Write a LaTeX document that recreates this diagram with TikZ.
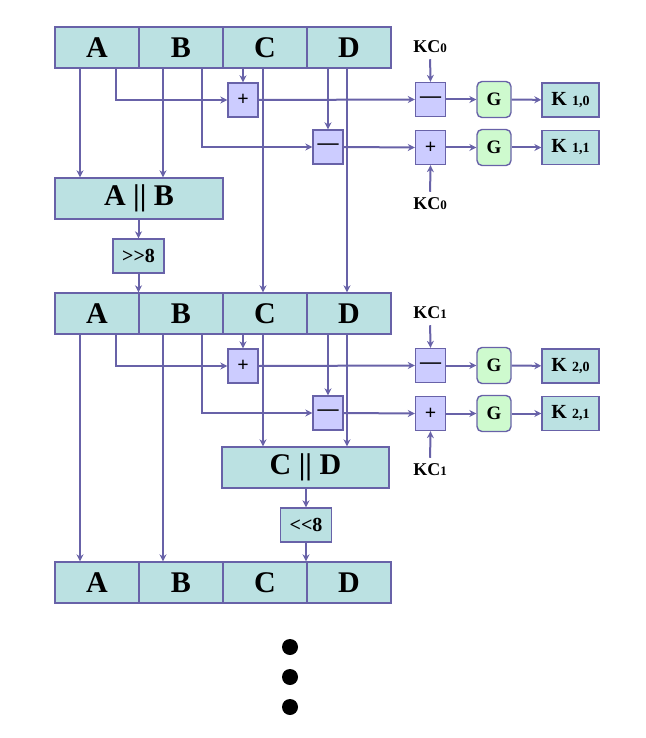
\documentclass[tikz,border=0pt]{standalone}
\usepackage{fontspec}
\setmainfont{Liberation Serif}
\usetikzlibrary{calc,arrows.meta}
\definecolor{regfill}{RGB}{187,225,226}
\definecolor{opfill}{RGB}{204,204,255}
\definecolor{gfill}{RGB}{206,250,206}
\definecolor{linec}{RGB}{104,98,168}
\newcommand{\fs}[1]{\fontsize{#1}{#1}\selectfont}
\begin{document}
\begin{tikzpicture}[x=1pt,y=-1pt,>={Stealth[length=7pt,width=7pt]},
	reg/.style={draw=linec,fill=regfill,line width=1.4pt,minimum width=84pt,minimum height=41pt,inner sep=0pt,font=\bfseries\fs{30}},
	op/.style={draw=linec,fill=opfill,line width=1.4pt,minimum width=30pt,minimum height=34pt,inner sep=0pt,font=\bfseries\fs{20}},
	gbox/.style={draw=linec,fill=gfill,line width=1.4pt,rounded corners=5pt,minimum width=34pt,minimum height=36pt,inner sep=0pt,font=\bfseries\fs{19}},
	kbox/.style={reg,minimum width=57pt,minimum height=34pt,font=\bfseries\fs{20}},
	shbox/.style={reg,minimum width=51pt,minimum height=34pt,font=\bfseries\fs{20}},
	lbl/.style={font=\bfseries\fs{18},inner sep=1pt},
	link/.style={draw=linec,line width=2pt,->}]
	\useasboundingbox (0,0) rectangle (645,738);
	% registers
	\foreach \r/\y in {1/47.5,2/313.5,3/582.5}
	\foreach \n [count=\c from 0] in {A,B,C,D}
	\node[reg] (r\r\n) at ({97+84*\c},\y) {\n};
	\node[reg,minimum width=168pt] (ab) at (139,198.5) {A || B};
	\node[shbox] (sh1) at (138.5,256) {{>}{>}8};
	\node[reg,minimum width=167pt] (cd) at (305.5,467.5) {C || D};
	\node[shbox] (sh2) at (306,525) {{<}{<}8};
	% round function
	\foreach \b/\t/\dy in {1/0/0,2/1/266}{
		\node[op] (p\b) at (243,100+\dy) {+};
		\node[op,font=\bfseries\fs{21}] (m\b) at (328,147+\dy) {\textemdash};
		\node[op,font=\bfseries\fs{21}] (rm\b) at (430.5,99.5+\dy) {\textemdash};
		\node[op] (rp\b) at (430.5,147.5+\dy) {+};
		\node[gbox] (g\b0) at (494,99.5+\dy) {G};
		\node[gbox] (g\b1) at (494,147.5+\dy) {G};
		\node[kbox] (k\b0) at (570.5,100+\dy) {K {\fs{14}\b,0}};
		\node[kbox] (k\b1) at (570.5,147.5+\dy) {K {\fs{14}\b,1}};
		\node[lbl] (kc\t a) at (430,47+\dy) {KC{\fs{13}\t}};
		\node[lbl] (kc\t b) at (430,204+\dy) {KC{\fs{13}\t}};
		\draw[link] ($(r\b A.south)+(19,0)$) |- (p\b.west);
		\draw[link] ($(r\b B.south)+(21,0)$) |- (m\b.west);
		\draw[link] (p\b.north|-r\b C.south) -- (p\b.north);
		\draw[link] (m\b.north|-r\b D.south) -- (m\b.north);
		\draw[link] (p\b.east) -- (rm\b.west);
		\draw[link] (m\b.east) -- (rp\b.west);
		\draw[link,shorten <=5pt] (kc\t a.south) -- (rm\b.north);
		\draw[link,shorten <=5pt] (kc\t b.north) -- (rp\b.south);
		\draw[link] (rm\b) -- (g\b0);
		\draw[link] (rp\b) -- (g\b1);
		\draw[link] (g\b0) -- (k\b0);
		\draw[link] (g\b1) -- (k\b1);
	}
	% first half
	\draw[link] ($(r1A.south)+(-17,0)$) -- ($(r1A.south|-ab.north)+(-17,0)$);
	\draw[link] ($(r1B.south)+(-18,0)$) -- ($(r1B.south|-ab.north)+(-18,0)$);
	\draw[link] (ab.south-|sh1.north) -- (sh1.north);
	\draw[link] (sh1.south) -- (sh1.south|-r2A.north);
	\draw[link] ($(r1C.south)+(-2,0)$) -- ($(r1C.south|-r2C.north)+(-2,0)$);
	\draw[link] ($(r1D.south)+(-2,0)$) -- ($(r1D.south|-r2D.north)+(-2,0)$);
	% second half
	\draw[link] ($(r2A.south)+(-17,0)$) -- ($(r2A.south|-r3A.north)+(-17,0)$);
	\draw[link] ($(r2B.south)+(-18,0)$) -- ($(r2B.south|-r3B.north)+(-18,0)$);
	\draw[link] ($(r2C.south)+(-2,0)$) -- ($(r2C.south|-cd.north)+(-2,0)$);
	\draw[link] ($(r2D.south)+(-2,0)$) -- ($(r2D.south|-cd.north)+(-2,0)$);
	\draw[link] (cd.south-|sh2.north) -- (sh2.north);
	\draw[link] (sh2.south) -- (sh2.south|-r3A.north);
	% dots
	\foreach \y in {647,677,707}
	\fill (290,\y) circle (8pt);
\end{tikzpicture}
\end{document}
